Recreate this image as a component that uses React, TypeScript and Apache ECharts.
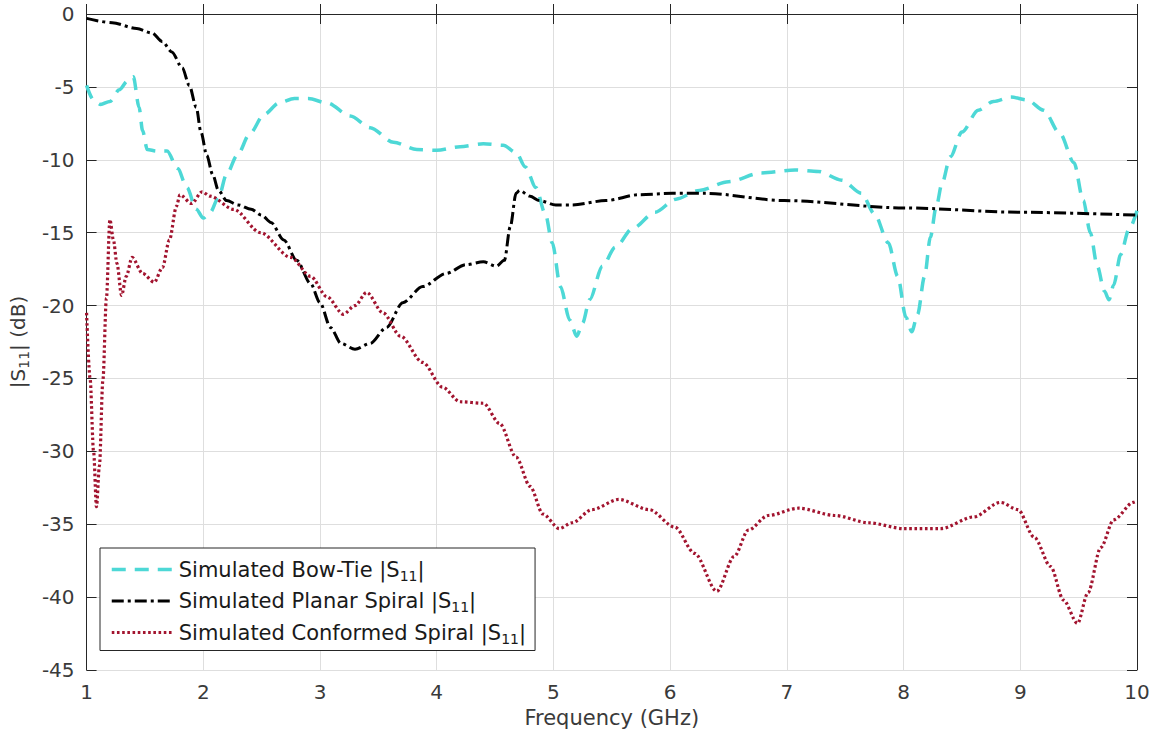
import React, { useEffect, useRef } from "react";
import * as echarts from "echarts";

// Simulated Bow-Tie |S11| (frequency in GHz, magnitude in dB)
const bowTieFreq = [
  1.0, 1.06, 1.12, 1.2, 1.28, 1.35, 1.4, 1.45, 1.48, 1.52, 1.6, 1.69, 1.78, 1.86, 1.94, 2.0,
  2.06, 2.13, 2.2, 2.29, 2.4, 2.52, 2.65, 2.78, 2.9, 3.06, 3.26, 3.43, 3.63, 3.83, 4.0, 4.2,
  4.4, 4.57, 4.68, 4.76, 4.85, 4.93, 4.99, 5.06, 5.14, 5.2, 5.25, 5.31, 5.42, 5.53, 5.68, 5.87,
  6.05, 6.25, 6.5, 6.78, 7.07, 7.27, 7.47, 7.64, 7.75, 7.87, 7.95, 8.02, 8.07, 8.12, 8.18, 8.23,
  8.28, 8.33, 8.4, 8.5, 8.64, 8.77, 8.92, 9.06, 9.2, 9.34, 9.46, 9.54, 9.6, 9.66, 9.72, 9.76,
  9.8, 9.86, 9.93, 10.0,
];
const bowTieS11 = [
  -4.9, -5.9, -6.2, -6.0, -5.2, -4.6, -4.3, -6.4, -8.0, -9.3, -9.4, -9.4, -10.6, -11.9, -13.4, -14.0,
  -13.6, -12.6, -11.0, -9.7, -8.2, -6.9, -6.1, -5.8, -5.8, -6.1, -7.0, -7.8, -8.8, -9.3, -9.35, -9.1,
  -8.9, -9.0, -9.5, -10.5, -11.9, -13.7, -15.7, -18.7, -21.0, -22.1, -21.2, -19.6, -17.3, -16.0, -14.7, -13.6,
  -12.7, -12.1, -11.5, -10.9, -10.7, -10.8, -11.4, -12.3, -13.7, -15.7, -18.0, -20.8, -21.8, -20.6, -18.0, -15.3,
  -13.2, -11.6, -9.8, -8.1, -6.6, -6.0, -5.7, -5.9, -6.6, -8.2, -10.2, -12.8, -15.0, -17.3, -19.0, -19.6,
  -18.6, -16.5, -14.8, -13.5,
];

// Simulated Planar Spiral |S11|
const planarFreq = [
  1.0, 1.22, 1.43, 1.56, 1.65, 1.73, 1.82, 1.88, 1.94, 1.98, 2.03, 2.08, 2.13, 2.2, 2.3, 2.41,
  2.5, 2.58, 2.69, 2.8, 2.92, 3.0, 3.09, 3.18, 3.3, 3.43, 3.57, 3.71, 3.88, 4.08, 4.25, 4.4,
  4.51, 4.58, 4.63, 4.68, 4.71, 4.8, 4.88, 5.02, 5.16, 5.45, 5.73, 6.02, 6.3, 6.98, 8.0, 9.0,
  10.0,
];
const planarS11 = [
  -0.3, -0.6, -1.0, -1.3, -1.9, -2.6, -3.7, -4.9, -6.4, -8.1, -9.7, -11.0, -12.1, -12.8, -13.1, -13.4,
  -13.8, -14.3, -15.5, -16.9, -18.5, -19.8, -21.5, -22.6, -23.0, -22.6, -21.5, -19.8, -18.7, -17.8, -17.2, -17.0,
  -17.3, -16.9, -14.6, -12.3, -12.1, -12.5, -12.8, -13.1, -13.1, -12.8, -12.4, -12.3, -12.3, -12.8, -13.3, -13.6,
  -13.8,
];

// Simulated Conformed Spiral |S11|
const conformedFreq = [
  1.0, 1.03, 1.06, 1.085, 1.11, 1.14, 1.17, 1.2, 1.23, 1.26, 1.3, 1.34, 1.39, 1.48, 1.58, 1.65,
  1.71, 1.77, 1.8, 1.9, 1.99, 2.06, 2.26, 2.49, 2.75, 2.92, 3.06, 3.2, 3.3, 3.4, 3.54, 3.69,
  3.88, 4.05, 4.2, 4.4, 4.54, 4.68, 4.8, 4.91, 5.05, 5.16, 5.33, 5.56, 5.82, 6.04, 6.21, 6.4,
  6.55, 6.67, 6.84, 7.1, 7.41, 7.7, 8.0, 8.32, 8.6, 8.83, 8.98, 9.12, 9.26, 9.37, 9.49, 9.58,
  9.69, 9.8, 9.97, 10.0,
];
const conformedS11 = [
  -20.5, -25.0, -30.0, -33.8, -31.0, -25.1, -19.5, -14.1, -15.5, -17.1, -19.3, -18.0, -16.7, -17.8, -18.4, -17.4,
  -15.5, -13.2, -12.4, -13.0, -12.2, -12.5, -13.4, -15.0, -16.7, -18.0, -19.4, -20.6, -20.0, -19.1, -20.5, -22.1,
  -23.9, -25.6, -26.6, -26.7, -28.1, -30.4, -32.4, -34.3, -35.3, -34.9, -34.0, -33.3, -34.0, -35.2, -37.0, -39.6,
  -37.2, -35.4, -34.4, -33.9, -34.4, -34.9, -35.3, -35.3, -34.5, -33.5, -34.0, -35.9, -37.9, -40.2, -41.8, -39.7,
  -36.6, -34.7, -33.5, -33.4,
];

const xTicks = { min: 1, max: 10, interval: 1 };
const yTicks = { min: -45, max: 0, interval: 5 };

const seriesNames = [
  "Simulated Bow-Tie",
  "Simulated Planar Spiral",
  "Simulated Conformed Spiral",
];

const FONT = "DejaVu Sans, Liberation Sans, Arial, sans-serif";
const TEXT = "#3a3a3a";
const AXIS = "#262626";

const zip = (xs: number[], ys: number[]) => xs.map((x, i) => [x, ys[i]]);

const styles = [
  { color: "#4dd8d6", width: 3.5, type: [14, 9] as number[] },
  { color: "#000000", width: 3, type: [12, 4, 3, 4] as number[] },
  { color: "#a2142f", width: 3.2, type: [2.6, 2.6] as number[] },
];

const richText = (color: string, size: number) => ({
  t: { fontFamily: FONT, fontSize: size, color, lineHeight: 26 },
  s: { fontFamily: FONT, fontSize: 14, color, lineHeight: 14, verticalAlign: "bottom" },
});

export default function App() {
  const ref = useRef<HTMLDivElement>(null);

  useEffect(() => {
    if (!ref.current) return;
    const chart = echarts.init(ref.current, undefined, { renderer: "svg" });
    const data = [
      zip(bowTieFreq, bowTieS11),
      zip(planarFreq, planarS11),
      zip(conformedFreq, conformedS11),
    ];

    chart.setOption({
      animation: false,
      backgroundColor: "#ffffff",
      grid: { left: 82, top: 14, right: 19, bottom: 70, containLabel: false },
      legend: {
        orient: "vertical",
        left: 100,
        top: 548,
        padding: [11, 9, 5, 10],
        itemWidth: 62,
        itemHeight: 14,
        itemGap: 8,
        selectedMode: false,
        backgroundColor: "#ffffff",
        borderColor: AXIS,
        borderWidth: 1,
        borderRadius: 0,
        data: seriesNames.map((name, i) => ({
          name,
          itemStyle: { color: "rgba(0,0,0,0)", borderWidth: 0, opacity: 0 },
          lineStyle: { color: styles[i].color, width: styles[i].width, type: styles[i].type },
        })),
        formatter: (name: string) => `{t|${name} |S}{s|11}{t||}`,
        textStyle: { fontFamily: FONT, fontSize: 21, color: "#1a1a1a", rich: richText("#1a1a1a", 21) },
      },
      xAxis: [
        {
          type: "value",
          ...xTicks,
          name: "Frequency (GHz)",
          nameLocation: "middle",
          nameGap: 37,
          nameTextStyle: { fontFamily: FONT, fontSize: 21, color: TEXT },
          axisLine: { show: true, lineStyle: { color: AXIS, width: 1 } },
          axisTick: { show: true, inside: true, length: 10, lineStyle: { color: AXIS } },
          axisLabel: { fontFamily: FONT, fontSize: 20, color: TEXT, margin: 12 },
          splitLine: { show: true, lineStyle: { color: "#dedede", width: 1 } },
        },
        {
          type: "value",
          ...xTicks,
          position: "top",
          axisLine: { show: true, onZero: false, lineStyle: { color: AXIS, width: 1 } },
          axisTick: { show: true, inside: true, length: 10, lineStyle: { color: AXIS } },
          axisLabel: { show: false },
          splitLine: { show: false },
        },
      ],
      yAxis: [
        {
          type: "value",
          ...yTicks,
          name: "{t||S}{s|11}{t|| (dB)}",
          nameLocation: "middle",
          nameRotate: 90,
          nameGap: 48,
          nameTextStyle: { fontFamily: FONT, fontSize: 20, color: TEXT, rich: richText(TEXT, 20) },
          axisLine: { show: true, onZero: false, lineStyle: { color: AXIS, width: 1 } },
          axisTick: { show: true, inside: true, length: 10, lineStyle: { color: AXIS } },
          axisLabel: { fontFamily: FONT, fontSize: 20, color: TEXT, margin: 12 },
          splitLine: { show: true, lineStyle: { color: "#dedede", width: 1 } },
        },
        {
          type: "value",
          ...yTicks,
          position: "right",
          axisLine: { show: true, onZero: false, lineStyle: { color: AXIS, width: 1 } },
          axisTick: { show: true, inside: true, length: 10, lineStyle: { color: AXIS } },
          axisLabel: { show: false },
          splitLine: { show: false },
        },
      ],
      series: seriesNames.map((name, i) => ({
        name,
        type: "line",
        xAxisIndex: 0,
        yAxisIndex: 0,
        data: data[i],
        symbol: "none",
        smooth: 0.3,
        smoothMonotone: "x",
        lineStyle: { color: styles[i].color, width: styles[i].width, type: styles[i].type, cap: "butt" },
        itemStyle: { color: styles[i].color },
        z: 3 + i,
      })),
    });

    return () => chart.dispose();
  }, []);

  return (
    <div
      ref={ref}
      style={{ position: "fixed", left: 0, top: 0, width: 1156, height: 740, background: "#fff" }}
    />
  );
}
